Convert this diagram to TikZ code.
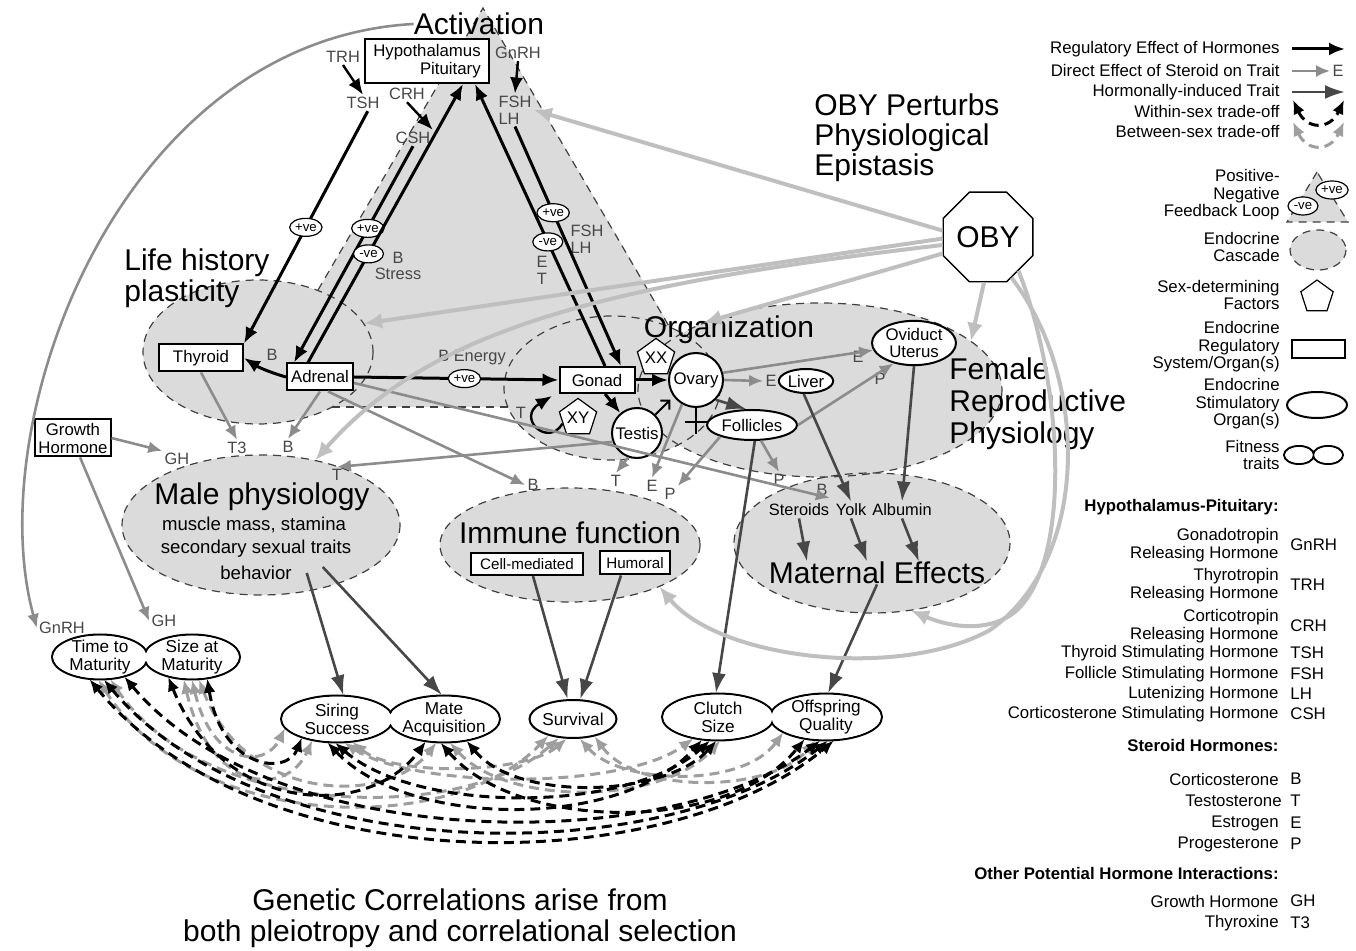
\documentclass[tikz,border=0pt]{standalone}
\usepackage{fontspec}
\setmainfont{Liberation Sans}
\usetikzlibrary{arrows.meta,shapes.geometric}

\newcommand{\fbig}{\fontsize{15}{15.5}\selectfont}
\newcommand{\fmid}{\fontsize{9.3}{12}\selectfont}
\newcommand{\fnode}{\fontsize{8.4}{9}\selectfont}
\newcommand{\ffit}{\fontsize{8.6}{9}\selectfont}
\newcommand{\flab}{\fontsize{8.2}{8.4}\selectfont}
\newcommand{\fsign}{\fontsize{6.6}{7}\selectfont}
\newcommand{\fleg}{\fontsize{8.4}{8.8}\selectfont}

\begin{document}
\begin{tikzpicture}[x=0.5pt,y=-0.5pt]

		\tikzstyle{cascadefill} = [ellipse, fill=black!14, inner sep=0pt]
		\tikzstyle{cascadeline} = [draw=black!75, line width=0.6pt, dash pattern=on 4pt off 3pt]
		\tikzstyle{regbox} = [rectangle, draw, line width=1pt, fill=white, inner sep=1.5pt, font=\fnode]
		\tikzstyle{stimorgan} = [ellipse, draw, line width=1pt, fill=white, inner sep=0.5pt, font=\fnode]
		\tikzstyle{sexfactor} = [regular polygon, regular polygon sides=5, draw, line width=0.6pt, fill=white, inner sep=0pt, minimum size=17pt, font=\fnode]
		\tikzstyle{fitness} = [ellipse, inner sep=-1.5pt, align=center, font=\ffit]
		\tikzstyle{fitline} = [line width=1pt]
		\tikzstyle{sign} = [ellipse, draw, line width=0.6pt, fill=white, inner sep=0.3pt, minimum width=15pt, minimum height=9pt, font=\fsign]
		\tikzstyle{hormone} = [font=\flab, text=black!72, inner sep=1pt]
		\tikzstyle{bigtitle} = [font=\fbig, inner sep=0pt]
		\tikzstyle{legendtext} = [font=\fleg, inner sep=0pt, align=right]
		\tikzstyle{regulatory} = [-{Latex[length=8pt,width=6.5pt]}, line width=1.5pt]
		\tikzstyle{steroid} = [-{Latex[length=7pt,width=6pt]}, line width=1.3pt, black!45]
		\tikzstyle{induced} = [-{Latex[length=10pt,width=7pt]}, line width=1.3pt, black!72]
		\tikzstyle{perturb} = [-{Latex[length=9pt,width=8pt]}, line width=2pt, black!25]
		\tikzstyle{withinsex} = [{Latex[length=7pt,width=6pt]}-{Latex[length=7pt,width=6pt]}, line width=1.5pt, dash pattern=on 5pt off 3pt]
		\tikzstyle{betweensex} = [withinsex, black!38]

		\useasboundingbox (0,0) rectangle (1356,951);

		% endocrine cascades
		\fill[black!14] (483,8) -- (250,407) -- (717,407) -- cycle;
		\node[cascadefill, minimum width=115pt, minimum height=72pt] at (258,352) (life) {};
		\node[cascadefill, minimum width=108pt, minimum height=72pt] at (612,388) (org) {};
		\node[cascadefill, minimum width=182pt, minimum height=87pt] at (820,390) (fem) {};
		\node[cascadefill, minimum width=139pt, minimum height=70pt] at (261,525) (male) {};
		\node[cascadefill, minimum width=130pt, minimum height=57pt] at (570,545) (imm) {};
		\node[cascadefill, minimum width=138pt, minimum height=70pt] at (872,543) (mat) {};

		\draw[cascadeline] (318,290) -- (483,8) -- (670,328);
		\draw[cascadeline] (332,407) -- (508,407);
		\draw[cascadeline] (life.center) ellipse (115 and 72);
		\draw[cascadeline] (org.center) ellipse (108 and 72);
		\draw[cascadeline] (fem.center) ellipse (182 and 87);
		\draw[cascadeline] (male.center) ellipse (139 and 70);
		\draw[cascadeline] (imm.center) ellipse (130 and 57);
		\draw[cascadeline] (mat.center) ellipse (138 and 70);

		\node[bigtitle] at (479,24) (activation) {Activation};
		\node[bigtitle, align=left, anchor=west] at (124,278) (lifetext) {Life history\\plasticity};
		\node[bigtitle] at (729,330) (orgtext) {Organization};
		\node[bigtitle, align=left, anchor=west, font=\fontsize{15}{16}\selectfont] at (949,404) (femtext) {Female\\Reproductive\\Physiology};
		\node[bigtitle, align=left, anchor=west, font=\fontsize{15}{15}\selectfont] at (814,138) (obytext) {OBY Perturbs\\Physiological\\Epistasis};
		\node[bigtitle] at (262,497) (maletext) {Male physiology};
		\node[font=\fmid] at (254,525) (muscle) {muscle mass, stamina};
		\node[font=\fmid] at (256,549) (sexual) {secondary sexual traits};
		\node[font=\fmid] at (256,573) (behavior) {behavior};
		\node[bigtitle] at (570,533) (immtext) {Immune function};
		\node[bigtitle] at (877,573) (mattext) {Maternal Effects};
		\node[font=\flab, inner sep=1pt] at (799,510) (steroids) {Steroids};
		\node[font=\flab, inner sep=1pt] at (851,510) (yolk) {Yolk};
		\node[font=\flab, inner sep=1pt] at (902,510) (albumin) {Albumin};
		\node[bigtitle, align=center] at (460,918) (gentext) {Genetic Correlations arise from\\both pleiotropy and correlational selection};

		% regulatory systems and stimulatory organs
		\node[regbox, minimum width=62pt, minimum height=22pt, align=right] at (427,61) (hp) {Hypothalamus\\Pituitary};
		\node[regbox, minimum width=42pt, minimum height=13.5pt] at (201,358) (thyroid) {Thyroid};
		\node[regbox, minimum width=33pt, minimum height=13.5pt] at (320,377) (adrenal) {Adrenal};
		\node[regbox, minimum width=37.5pt, minimum height=13pt] at (597,380) (gonad) {Gonad};
		\node[regbox, minimum width=35pt, minimum height=18.5pt, align=center] at (73,438) (growth) {Growth\\Hormone};
		\node[regbox, minimum width=56pt, minimum height=11pt, font=\fontsize{7.6}{8}\selectfont] at (527,564) (cellmed) {Cell-mediated};
		\node[regbox, minimum width=35pt, minimum height=11.5pt, font=\fontsize{7.6}{8}\selectfont] at (635,563) (humoral) {Humoral};

		\node[stimorgan, circle, minimum size=27pt] at (696,380) (ovary) {Ovary};
		\node[stimorgan, circle, minimum size=25pt] at (637,433) (testis) {Testis};
		\node[stimorgan, minimum width=26pt, minimum height=12pt] at (806,381) (liver) {Liver};
		\node[stimorgan, minimum width=45pt, minimum height=15pt] at (752,425) (follicles) {Follicles};
		\node[stimorgan, minimum width=42pt, minimum height=21pt, align=center, font=\fontsize{8.4}{8.5}\selectfont] at (914,343) (oviduct) {Oviduct\\Uterus};

		\node[sexfactor] at (656,358) (xx) {XX};
		\node[sexfactor] at (578,418) (xy) {XY};
		\node[draw, regular polygon, regular polygon sides=8, minimum size=42pt, line width=0.7pt, fill=white, inner sep=0pt, font=\fbig] at (988,237) (oby) {OBY};

		\draw[line width=1pt] (ovary.south) -- ++(0,26) ++(-11,-12) -- ++(22,0);
		\draw[line width=1pt] (testis.45) -- ++(14,-14) ++(-9,0) -- ++(9,0) -- ++(0,9);

		% hormone labels
		\node[hormone] at (343,57) (trh) {TRH};
		\node[hormone] at (363,103) (tsh) {TSH};
		\node[hormone] at (407,94) (crh) {CRH};
		\node[hormone] at (413,138) (csh) {CSH};
		\node[hormone] at (518,53) (gnrh) {GnRH};
		\node[hormone, align=left] at (515,110) (fshlh) {FSH\\LH};
		\node[hormone, align=center] at (398,266) (bstress) {B\\Stress};
		\node[hormone, align=left] at (587,239) (fshlhfb) {FSH\\LH};
		\node[hormone, align=center] at (542,270) (etfb) {E\\T};
		\node[hormone] at (272,355) (bthy) {B};
		\node[hormone] at (472,358) (benergy) {B Energy};
		\node[hormone] at (521,413) (tloop) {T};
		\node[hormone] at (237,448) (lt3) {T3};
		\node[hormone] at (288,447) (lbmale) {B};
		\node[hormone] at (177,459) (lghmale) {GH};
		\node[hormone] at (337,475) (ltmale) {T};
		\node[hormone] at (533,485) (lbimm) {B};
		\node[hormone] at (616,481) (ltimm) {T};
		\node[hormone] at (652,486) (leimm) {E};
		\node[hormone] at (670,494) (lpimm) {P};
		\node[hormone] at (771,381) (leliver) {E};
		\node[hormone] at (858,357) (leovi) {E};
		\node[hormone] at (880,379) (lpovi) {P};
		\node[hormone] at (779,480) (lpmat) {P};
		\node[hormone] at (822,490) (lbmat) {B};
		\node[hormone] at (62,628) (lgnrh) {GnRH};
		\node[hormone] at (164,621) (lghsize) {GH};

		% fitness traits
		\draw[fitline] (100,657) ellipse (48 and 22.5);
		\draw[fitline] (192,657) ellipse (48 and 22.5);
		\draw[fitline] (337,719) ellipse (56 and 23.5);
		\draw[fitline] (444,719) ellipse (56 and 23.5);
		\draw[fitline] (718,717) ellipse (56 and 23.5);
		\draw[fitline] (826,717) ellipse (56 and 23.5);
		\fill[white] (100,657) ellipse (46.6 and 21.1);
		\fill[white] (192,657) ellipse (46.6 and 21.1);
		\fill[white] (337,719) ellipse (54.6 and 22.1);
		\fill[white] (444,719) ellipse (54.6 and 22.1);
		\fill[white] (718,717) ellipse (54.6 and 22.1);
		\fill[white] (826,717) ellipse (54.6 and 22.1);
		\node[fitness, minimum width=48pt, minimum height=22.5pt] at (100,657) (tm) {Time to\\Maturity};
		\node[fitness, minimum width=48pt, minimum height=22.5pt] at (192,657) (sm) {Size at\\Maturity};
		\node[fitness, minimum width=56pt, minimum height=23.5pt] at (337,719) (si) {Siring\\Success};
		\node[fitness, minimum width=56pt, minimum height=23.5pt] at (444,719) (ma) {Mate\\Acquisition};
		\node[fitness, draw, fitline, fill=white, minimum width=43.5pt, minimum height=19pt] at (573,719) (sv) {Survival};
		\node[fitness, minimum width=56pt, minimum height=23.5pt] at (718,717) (cs) {Clutch\\Size};
		\node[fitness, minimum width=56pt, minimum height=23.5pt] at (826,717) (oq) {Offspring\\Quality};

		% regulatory effects of hormones
		\draw[regulatory, line width=1.2pt] (trh.south) -- (tsh.north);
		\draw[regulatory, line width=1.2pt] (crh.south) -- (csh.north east);
		\draw[regulatory, line width=1.2pt] (gnrh.south) -- (fshlh.north);
		\draw[regulatory] (tsh.-60) -- node[sign] (sgtsh) {+ve} (thyroid.north east);
		\draw[regulatory] (csh.south) -- node[sign, pos=0.38] (sgcsh) {+ve} ([xshift=4pt]adrenal.north west);
		\draw[regulatory] ([xshift=-6pt]adrenal.north) -- node[sign, pos=0.39] (sgadr) {-ve} ([xshift=18pt]hp.south);
		\draw[regulatory] ([xshift=4pt]gonad.north) -- node[sign, pos=0.44] (sggon) {-ve} ([xshift=24pt]hp.south);
		\draw[regulatory] (fshlh.south) -- node[sign, pos=0.36] (sgfsh) {+ve} ([xshift=12pt]gonad.north);
		\draw[regulatory] (adrenal.west) to[bend left=8] (thyroid.east);
		\draw[regulatory] (adrenal.east) -- node[sign, pos=0.54] (sgenergy) {+ve} (gonad.west);
		\draw[regulatory] (gonad.east) -- (ovary.west);
		\draw[regulatory] (gonad.-60) -- (testis.130);
		\draw[regulatory, line width=1.2pt] (xy.200) .. controls (548,448) and (516,418) .. (552,396);

		% direct effects of steroids
		\draw[steroid] (activation.west) .. controls (120,40) and (-20,420) .. (lgnrh.west);
		\draw[steroid] (thyroid.south) -- (lt3.north);
		\draw[steroid] (adrenal.south) -- (lbmale.north);
		\draw[steroid] (growth.east) -- (lghmale.north west);
		\draw[steroid] (growth.-70) -- (lghsize.west);
		\draw[steroid] (testis.200) -- (ltmale.north);
		\draw[steroid] ([xshift=4pt]adrenal.south) -- (lbimm.west);
		\draw[steroid] (adrenal.-10) -- (lbmat.south east);
		\draw[steroid] (testis.250) -- (ltimm.north);
		\draw[steroid] (ovary.240) -- (leimm.north);
		\draw[steroid] (follicles.200) -- (lpimm.north east);
		\draw[steroid] (follicles.-60) -- (lpmat.north);
		\draw[steroid] (ovary.east) -- (leliver.west);
		\draw[steroid] (ovary.15) -- (oviduct.190);
		\draw[steroid] (follicles.east) -- (oviduct.225);

		% hormonally-induced traits
		\draw[induced] (ovary.-45) -- (follicles.110);
		\draw[induced] (liver.-100) -- (yolk.north);
		\draw[induced] (oviduct.south) -- (albumin.north);
		\draw[induced] (steroids.south) -- ([xshift=-35pt]mattext.north);
		\draw[induced] (yolk.south) -- ([xshift=-5pt]mattext.north);
		\draw[induced] (albumin.south) -- ([xshift=21pt]mattext.north);
		\draw[induced] (follicles.-80) -- (cs.95);
		\draw[induced] (mattext.south) -- (oq.85);
		\draw[induced] ([xshift=4pt]behavior.east) -- (si.75);
		\draw[induced] ([xshift=12pt,yshift=3pt]behavior.east) -- (ma.95);
		\draw[induced] ([xshift=3pt]cellmed.south) -- (sv.105);
		\draw[induced] ([xshift=-7pt]humoral.south) -- (sv.70);

		% OBY perturbations
		\draw[perturb] (oby.172) -- (fshlh.east);
		\draw[perturb] (oby.182) -- (life.15);
		\draw[perturb] (oby.190) .. controls (600,285) and (430,330) .. (male.50);
		\draw[perturb] (oby.200) -- (fem.150);
		\draw[perturb] (oby.-95) -- (fem.18);
		\draw[perturb] (oby.-60) .. controls (1090,380) and (1090,560) .. (990,630) .. controls (900,680) and (720,660) .. (imm.-25);
		\draw[perturb] (oby.-48) .. controls (1062,380) and (1074,560) .. (1015,612) .. controls (985,635) and (945,625) .. (mat.-60);

		% genetic correlations
		\draw[betweensex] (tm.266) .. controls +(97,153) and +(-97,102) .. (sv.214);
		\draw[betweensex] (tm.295) .. controls +(94,141) and +(-94,85) .. (sv.233);
		\draw[betweensex] (sm.250) .. controls +(26,113) and +(-26,57) .. (si.221);
		\draw[betweensex] (sm.270) .. controls +(20,85) and +(-20,41) .. (si.190);
		\draw[betweensex] (sm.287) .. controls +(48,125) and +(-48,62) .. (ma.252);
		\draw[betweensex] (si.287) .. controls +(71,46) and +(-71,52) .. (cs.221);
		\draw[betweensex] (si.304) .. controls +(42,35) and +(-42,35) .. (sv.252);
		\draw[betweensex] (ma.284) .. controls +(58,64) and +(-58,64) .. (cs.275);
		\draw[betweensex] (sv.289) .. controls +(41,46) and +(-41,56) .. (oq.200);
		\draw[betweensex] (sv.321) .. controls +(43,59) and +(-43,52) .. (oq.245);

		\draw[withinsex] (tm.245) .. controls +(168,204) and +(-168,141) .. (oq.288);
		\draw[withinsex] (tm.280) .. controls +(159,191) and +(-159,128) .. (oq.274);
		\draw[withinsex] (tm.321) .. controls +(149,178) and +(-149,115) .. (oq.256);
		\draw[withinsex] (sm.220) .. controls +(56,140) and +(-56,77) .. (ma.231);
		\draw[withinsex] (sm.305) .. controls +(15,91) and +(-15,38) .. (si.208);
		\draw[withinsex] (si.248) .. controls +(81,86) and +(-81,90) .. (cs.235);
		\draw[withinsex] (si.266) .. controls +(81,71) and +(-81,73) .. (cs.251);
		\draw[withinsex] (ma.262) .. controls +(77,89) and +(-77,95) .. (oq.226);
		\draw[withinsex] (ma.316) .. controls +(51,62) and +(-51,56) .. (cs.266);

		% legend
		\node[legendtext, anchor=east] at (1280,49) (lgreg) {Regulatory Effect of Hormones};
		\node[legendtext, anchor=east] at (1280,71) (lgdir) {Direct Effect of Steroid on Trait};
		\node[legendtext, anchor=east] at (1280,92) (lgind) {Hormonally-induced Trait};
		\node[legendtext, anchor=east] at (1280,112) (lgwithin) {Within-sex trade-off};
		\node[legendtext, anchor=east] at (1280,132) (lgbetween) {Between-sex trade-off};
		\node[hormone] at (1338,71) (lgE) {E};
		\coordinate (lgregend) at (1345,49);
		\coordinate (lgindend) at (1345,92);
		\coordinate (wsa) at (1293,100);
		\coordinate (wsb) at (1344,100);
		\coordinate (bsa) at (1293,122);
		\coordinate (bsb) at (1344,122);
		\draw[regulatory] ([xshift=6pt]lgreg.east) -- (lgregend);
		\draw[steroid] ([xshift=6pt]lgdir.east) -- (lgE.west);
		\draw[induced] ([xshift=6pt]lgind.east) -- (lgindend);
		\draw[withinsex] (wsa) .. controls +(14,30) and +(-14,30) .. (wsb);
		\draw[betweensex] (bsa) .. controls +(14,30) and +(-14,30) .. (bsb);

		\fill[black!14] (1317,172) -- (1287,222) -- (1348,222) -- cycle;
		\draw[cascadeline] (1317,172) -- (1287,222) -- (1348,222) -- cycle;
		\node[sign] at (1332,190) (lgpos) {+ve};
		\node[sign] at (1303,206) (lgneg) {-ve};
		\node[legendtext, anchor=east] at (1280,195) (lgloop) {Positive-\\Negative\\Feedback Loop};
		\fill[black!14] (1318,250) ellipse (28 and 20);
		\draw[cascadeline] (1318,250) ellipse (28 and 20);
		\node[legendtext, anchor=east] at (1280,247) (lgcasc) {Endocrine\\Cascade};
		\node[sexfactor] at (1317,297) (lgsex) {};
		\node[legendtext, anchor=east] at (1280,295) (lgsextext) {Sex-determining\\Factors};
		\node[regbox, minimum width=26.5pt, minimum height=9pt, inner sep=0pt] at (1318,349) (lgregsys) {};
		\node[legendtext, anchor=east] at (1280,347) (lgregtext) {Endocrine\\Regulatory\\System/Organ(s)};
		\node[stimorgan, minimum width=30pt, minimum height=13pt] at (1317,405) (lgstim) {};
		\node[legendtext, anchor=east] at (1280,404) (lgstimtext) {Endocrine\\Stimulatory\\Organ(s)};
		\draw[fitline] (1299,455) ellipse (15 and 9);
		\draw[fitline] (1328,455) ellipse (15 and 9);
		\fill[white] (1299,455) ellipse (13.8 and 7.8);
		\fill[white] (1328,455) ellipse (13.8 and 7.8);
		\node[legendtext, anchor=east] at (1280,455) (lgfit) {Fitness\\traits};

		\node[legendtext, anchor=east, font=\fleg\bfseries] at (1279,507) (hphead) {Hypothalamus-Pituitary:};
		\node[legendtext, anchor=east] at (1279,545) (dgnrh) {Gonadotropin\\Releasing Hormone};
		\node[legendtext, anchor=west, align=left] at (1290,545) (agnrh) {GnRH};
		\node[legendtext, anchor=east] at (1279,585) (dtrh) {Thyrotropin\\Releasing Hormone};
		\node[legendtext, anchor=west, align=left] at (1290,585) (atrh) {TRH};
		\node[legendtext, anchor=east] at (1279,626) (dcrh) {Corticotropin\\Releasing Hormone};
		\node[legendtext, anchor=west, align=left] at (1290,626) (acrh) {CRH};
		\node[legendtext, anchor=east] at (1279,653) (dtsh) {Thyroid Stimulating Hormone};
		\node[legendtext, anchor=west, align=left] at (1290,653) (atsh) {TSH};
		\node[legendtext, anchor=east] at (1279,674) (dfsh) {Follicle Stimulating Hormone};
		\node[legendtext, anchor=west, align=left] at (1290,674) (afsh) {FSH};
		\node[legendtext, anchor=east] at (1279,694) (dlh) {Lutenizing Hormone};
		\node[legendtext, anchor=west, align=left] at (1290,694) (alh) {LH};
		\node[legendtext, anchor=east] at (1279,714) (dcsh) {Corticosterone Stimulating Hormone};
		\node[legendtext, anchor=west, align=left] at (1290,714) (acsh) {CSH};
		\node[legendtext, anchor=east, font=\fleg\bfseries] at (1279,745) (sthead) {Steroid Hormones:};
		\node[legendtext, anchor=east] at (1279,779) (db) {Corticosterone};
		\node[legendtext, anchor=west, align=left] at (1290,779) (ab) {B};
		\node[legendtext, anchor=east] at (1282,801) (dt) {Testosterone};
		\node[legendtext, anchor=west, align=left] at (1290,801) (at) {T};
		\node[legendtext, anchor=east] at (1279,823) (de) {Estrogen};
		\node[legendtext, anchor=west, align=left] at (1290,823) (ae) {E};
		\node[legendtext, anchor=east] at (1279,844) (dp) {Progesterone};
		\node[legendtext, anchor=west, align=left] at (1290,844) (ap) {P};
		\node[legendtext, anchor=east, font=\fleg\bfseries] at (1279,873) (othead) {Other Potential Hormone Interactions:};
		\node[legendtext, anchor=east] at (1279,901) (dgh) {Growth Hormone};
		\node[legendtext, anchor=west, align=left] at (1290,901) (agh) {GH};
		\node[legendtext, anchor=east] at (1279,923) (dthx) {Thyroxine};
		\node[legendtext, anchor=west, align=left] at (1290,923) (athx) {T3};
\end{tikzpicture}
\end{document}
